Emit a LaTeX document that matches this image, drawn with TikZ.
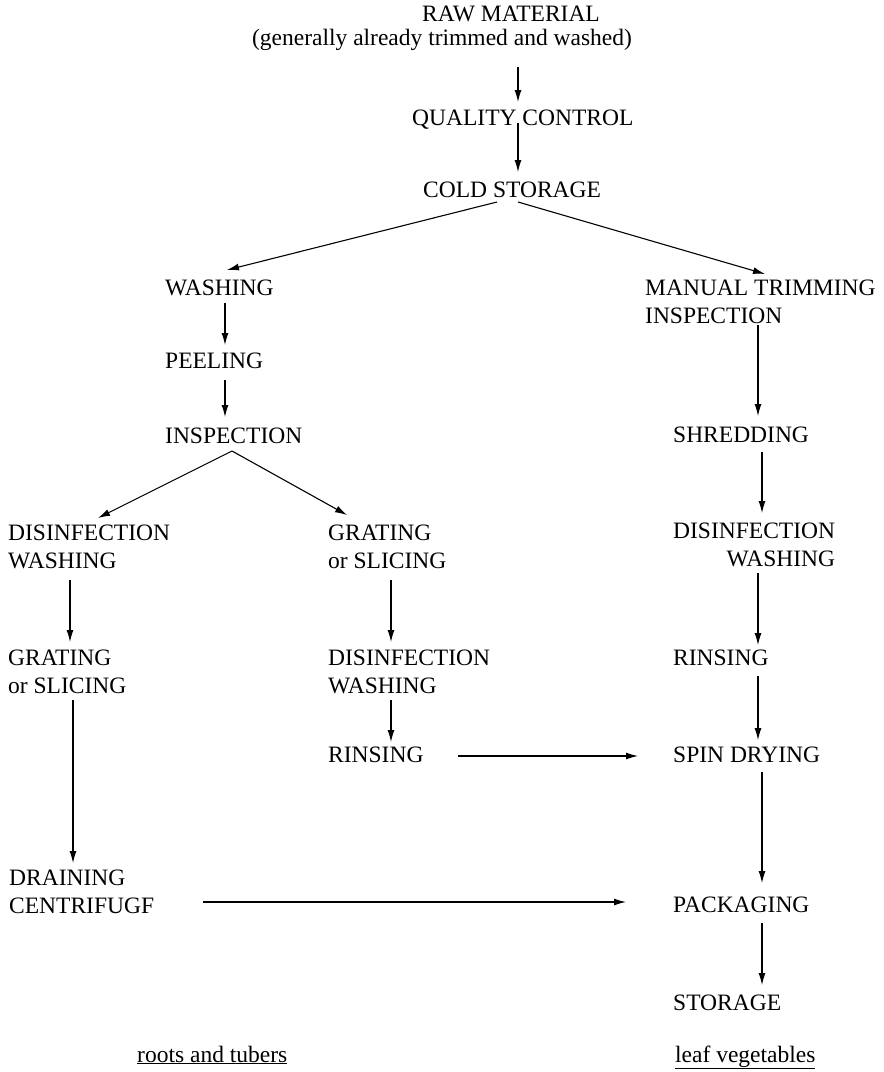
\documentclass[tikz,border=0pt]{standalone}
\usepackage{fontspec}
\setmainfont{Liberation Serif}
\usetikzlibrary{calc,arrows.meta}
\newcommand{\lstack}[2]{\begin{tabular}[t]{@{}l@{}}#1\\#2\end{tabular}}
\newcommand{\rstack}[2]{\begin{tabular}[t]{@{}r@{}}#1\\#2\end{tabular}}
\tikzset{
    %Define standard arrow tip
    >={Latex[length=12pt,width=7pt]},
    % process stage (text only)
    stage/.style={
           anchor=base west,
           inner sep=0pt,
           font=\fontsize{23.5}{28}\selectfont},
    % Define arrow style
    pil/.style={
           ->,
           line width=1.1pt}
}
\begin{document}
\begin{tikzpicture}[x=1pt,y=-1pt]
\useasboundingbox (0,0) rectangle (884,1072);

%%%%%%%%%%%%%%%%%%%%%%%%%%%%%%%%%

% common trunk
\node [stage, anchor=base] (raw) at (511, 21) {RAW MATERIAL};
\node [stage, anchor=base] (rawnote) at (442, 45) {(generally already trimmed and washed)};
\node [stage] (quality) at (412,125) {QUALITY CONTROL};
\node [stage] (cold) at (423,197) {COLD STORAGE};

% roots and tubers
\node [stage] (washA) at (165,295) {WASHING};
\node [stage] (peel) at (165,368) {PEELING};
\node [stage] (inspA) at (165,443) {INSPECTION};
\node [stage] (disA) at (8,540) {\lstack{DISINFECTION}{WASHING}};
\node [stage] (gratA) at (328,540) {\lstack{GRATING}{or SLICING}};
\node [stage] (gratB) at (8,665) {\lstack{GRATING}{or SLICING}};
\node [stage] (disB) at (328,665) {\lstack{DISINFECTION}{WASHING}};
\node [stage] (rinseA) at (328,762) {RINSING};
\node [stage] (drain) at (9,885) {\lstack{DRAINING}{CENTRIFUGF}};

% leaf vegetables
\node [stage] (trim) at (645,295) {\lstack{MANUAL TRIMMING}{INSPECTION}};
\node [stage] (shred) at (673,442) {SHREDDING};
\node [stage] (disC) at (673,538) {\rstack{DISINFECTION}{WASHING}};
\node [stage] (rinseC) at (673,665) {RINSING};
\node [stage] (spin) at (673,762) {SPIN DRYING};
\node [stage] (pack) at (673,912) {PACKAGING};
\node [stage] (store) at (673,1010) {STORAGE};

% captions
\node [stage] (roots) at (137,1062) {\underline{roots and tubers}};
\node [stage] (leaf) at (675,1062) {\underline{leaf vegetables}};

% trunk arrows
\draw [pil] ($(rawnote.base)+(76,22)$) -- ($(quality.base west)+(106,-23)$);
\draw [pil] ($(quality.base west)+(106,-2)$) -- ($(cold.base west)+(95,-25)$);
\draw [pil] ($(cold.base west)+(74,5)$) -- ($(washA.base west)+(62,-25)$);
\draw [pil] ($(cold.base west)+(95,5)$) -- ($(trim.base west)+(120,-21)$);

% left branch
\draw [pil] ($(washA.base west)+(60,8)$) -- ($(peel.base west)+(60,-23)$);
\draw [pil] ($(peel.base west)+(60,12)$) -- ($(inspA.base west)+(60,-26)$);
\draw [pil] ($(inspA.base west)+(67,8)$) -- ($(disA.base west)+(90,-22)$);
\draw [pil] ($(inspA.base west)+(67,8)$) -- ($(gratA.base west)+(19,-25)$);
\draw [pil] ($(disA.base west)+(62,40)$) -- ($(gratB.base west)+(62,-23)$);
\draw [pil] ($(gratA.base west)+(63,40)$) -- ($(disB.base west)+(63,-23)$);
\draw [pil] ($(gratB.base west)+(65,35)$) -- ($(drain.base west)+(64,-22)$);
\draw [pil] ($(disB.base west)+(63,35)$) -- ($(rinseA.base west)+(63,-20)$);

% cross-over arrows
\draw [pil] ($(rinseA.base west)+(130,-6)$) -- ($(spin.base west)+(-35,-6)$);
\draw [pil] ($(drain.base west)+(194,17)$) -- ($(pack.base west)+(-47,-10)$);

% right branch
\draw [pil] ($(trim.base west)+(113,30)$) -- ($(shred.base west)+(85,-26)$);
\draw [pil] ($(shred.base west)+(89,10)$) -- ($(disC.base west)+(89,-25)$);
\draw [pil] ($(disC.base west)+(85,35)$) -- ($(rinseC.base west)+(85,-20)$);
\draw [pil] ($(rinseC.base west)+(85,11)$) -- ($(spin.base west)+(85,-22)$);
\draw [pil] ($(spin.base west)+(89,10)$) -- ($(pack.base west)+(89,-29)$);
\draw [pil] ($(pack.base west)+(89,11)$) -- ($(store.base west)+(89,-25)$);

\end{tikzpicture}
\end{document}
